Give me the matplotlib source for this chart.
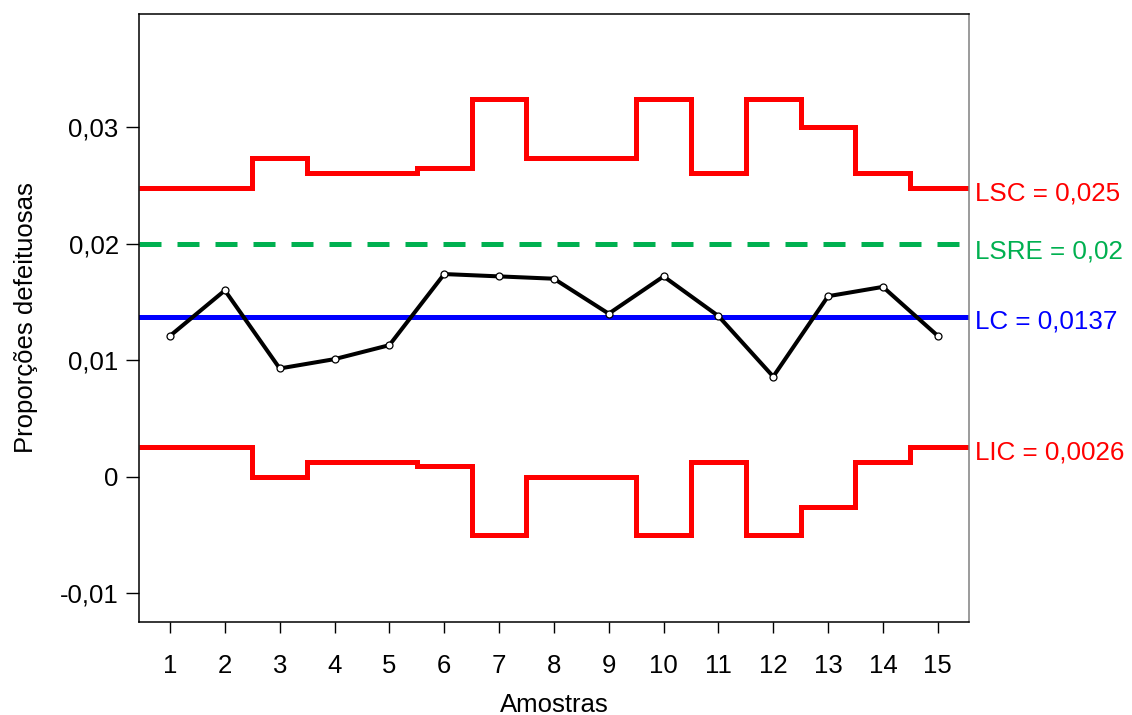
import numpy as np
import matplotlib
matplotlib.use("Agg")
import matplotlib.pyplot as plt
from matplotlib.ticker import FuncFormatter
import matplotlib.transforms as mtransforms

plt.rcParams['font.family'] = ['Liberation Sans', 'DejaVu Sans']

# carta p: proporcao de defeituosos por amostra
amostras = np.arange(1, 16)
proporcoes = [0.0121, 0.0160, 0.0093, 0.0101, 0.0113, 0.0174, 0.0172, 0.0170,
              0.0140, 0.0172, 0.0138, 0.0086, 0.0155, 0.0163, 0.0121]
lsc = [0.0248, 0.0248, 0.0274, 0.0261, 0.0261, 0.0265, 0.0324, 0.0274,
       0.0274, 0.0324, 0.0261, 0.0324, 0.0300, 0.0261, 0.0248]
lic = [0.0026, 0.0026, 0.0000, 0.0013, 0.0013, 0.0009, -0.0050, 0.0000,
       0.0000, -0.0050, 0.0013, -0.0050, -0.0026, 0.0013, 0.0026]
lc = 0.0137
lsre = 0.02
rotulos = ["LSC = 0,025", "LSRE = 0,02", "LC = 0,0137", "LIC = 0,0026"]

xmin, xmax = 0.44, 15.57
ymin, ymax = -0.01246, 0.03975

fig = plt.figure(figsize=(11.32, 7.15), dpi=100)
ax = fig.add_axes([0.1231, 0.130, 0.7329, 0.8510])

vermelho = "#ff0000"
verde = "#00b050"
azul = "#0000ff"

# limites em degrau, um por amostra
bordas = np.arange(0.5, 16.5, 1.0)
bordas[0] = xmin
bordas[-1] = xmax
ax.stairs(lsc, bordas, baseline=None, color=vermelho, lw=3.6)
ax.stairs(lic, bordas, baseline=None, color=vermelho, lw=3.6)

ax.plot([xmin, xmax], [lsre, lsre], color=verde, lw=3.6,
        dashes=(4.4, 3.2), dash_capstyle="butt")
ax.plot([xmin, xmax], [lc, lc], color=azul, lw=3.6)

ax.plot(amostras, proporcoes, color="black", lw=2.9, marker="o",
        markersize=5, markerfacecolor="white", markeredgecolor="black",
        markeredgewidth=0.9)

ax.set_xlim(xmin, xmax)
ax.set_ylim(ymin, ymax)

ax.set_xticks(amostras)
ax.set_yticks([-0.01, 0, 0.01, 0.02, 0.03])
ax.yaxis.set_major_formatter(FuncFormatter(
    lambda v, p: "0" if abs(v) < 1e-12 else f"{v:.2f}".replace(".", ",")))

ax.tick_params(axis="x", length=7.7, width=1, pad=15, labelsize=18.5)
ax.tick_params(axis="y", length=9.4, width=1, pad=5.5, labelsize=18.5)

for s in ["left", "bottom", "top"]:
    ax.spines[s].set_color("black")
    ax.spines[s].set_linewidth(1.1)
ax.spines["right"].set_color("#808080")
ax.spines["right"].set_linewidth(1.1)

ax.set_xlabel("Amostras", fontsize=18.5, labelpad=11)
ax.set_ylabel("Proporções defeituosas", fontsize=18.5, labelpad=16)

# rotulos dos limites a direita do grafico
trans = mtransforms.blended_transform_factory(ax.transAxes, ax.transData)
valores = [lsc[-1], lsre, lc, lic[-1]]
cores = [vermelho, verde, azul, vermelho]
desloc = [-0.0005, -0.0007, -0.0004, -0.0005]
for txt, v, c, d in zip(rotulos, valores, cores, desloc):
    ax.text(1.007, v + d, txt, transform=trans, color=c, fontsize=18.7,
            va="center", ha="left", clip_on=False)

fig.savefig("out.png", dpi=100)
